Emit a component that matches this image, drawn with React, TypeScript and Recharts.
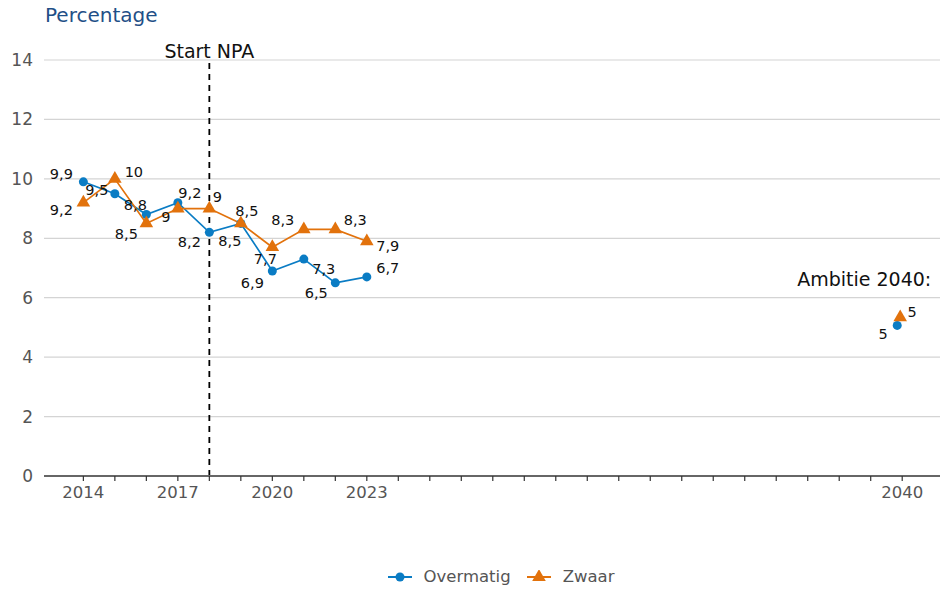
import { LineChart, Line, XAxis, YAxis, CartesianGrid, ReferenceLine, ReferenceDot, Legend, Symbols } from "recharts";

const years = [2014, 2015, 2016, 2017, 2018, 2019, 2020, 2021, 2022, 2023];
const overmatig = [9.9, 9.5, 8.8, 9.2, 8.2, 8.5, 6.9, 7.3, 6.5, 6.7];
const zwaar = [9.2, 10, 8.5, 9, 9, 8.5, 7.7, 8.3, 8.3, 7.9];

const ambitieJaar = 2040;
const ambitieOvermatig = 5;
const ambitieZwaar = 5;

const startNpaJaar = 2018;
const xTickYears = [
  2014, 2015, 2016, 2017, 2018, 2019, 2020, 2021, 2022, 2023, 2024, 2025, 2026, 2027,
  2028, 2029, 2030, 2031, 2032, 2033, 2034, 2035, 2036, 2037, 2038, 2039, 2040,
];
const xLabelYears = [2014, 2017, 2020, 2023, 2040];
const yTicks = [0, 2, 4, 6, 8, 10, 12, 14];

const BLUE = "#0a7cc4";
const ORANGE = "#e2720c";
const FONT = "'DejaVu Sans', sans-serif";

// pixel nudge of each value label away from its point (so labels don't collide)
const overmatigLabelOffset = [
  [-22, -8], [-18, -4], [-11, -10], [12, -10], [-20, 10],
  [-11, 18], [-20, 12], [20, 10], [-19, 10], [21, -9],
];
const zwaarLabelOffset = [
  [-22, 7], [19, -7], [-20, 11], [-12, 8], [8, -12],
  [6, -12], [-7, 12], [-21, -9], [20, -9], [21, 5],
];

const histOvermatig = years.map((year, i) => ({ year, v: overmatig[i] }));
const histZwaar = years.map((year, i) => ({ year, v: zwaar[i] }));

const fmt = (v: number) => String(v).replace(".", ",");

const Marker = ({ cx, cy, kind, color }: any) =>
  kind === "circle" ? (
    <circle cx={cx} cy={cy} r={4.5} fill={color} />
  ) : (
    <Symbols cx={cx} cy={cy} type="triangle" size={80} fill={color} />
  );

const makeDot = (kind: string, color: string, offs: number[][]) => (props: any) => {
  const { cx, cy, index, value, key } = props;
  const [dx, dy] = offs[index];
  return (
    <g key={key ?? index}>
      <Marker cx={cx} cy={cy} kind={kind} color={color} />
      <text x={cx + dx} y={cy + dy} textAnchor="middle" dominantBaseline="central" fontSize={14.5} fill="#111" fontFamily={FONT}>
        {fmt(Array.isArray(value) ? value[1] : value)}
      </text>
    </g>
  );
};

const XTick = ({ x, y, payload }: any) =>
  xLabelYears.includes(payload.value) ? (
    <text x={x} y={y} dy={15} textAnchor="middle" fontSize={16.5} fill="#555" fontFamily={FONT}>
      {payload.value}
    </text>
  ) : null;

const AmbitieDot = ({ cx, cy, kind, color, value, dx, dy, ldx, ldy }: any) => (
  <g>
    <Marker cx={cx + dx} cy={cy + dy} kind={kind} color={color} />
    <text x={cx + dx + ldx} y={cy + dy + ldy} textAnchor="middle" dominantBaseline="central" fontSize={14.5} fill="#111" fontFamily={FONT}>
      {fmt(value)}
    </text>
  </g>
);

const LegendContent = () => (
  <div style={{ display: "flex", justifyContent: "center", gap: 16, paddingLeft: 62, fontFamily: FONT, fontSize: 16.5, color: "#555", lineHeight: "20px" }}>
    {[
      { name: "Overmatig", color: BLUE, kind: "circle" },
      { name: "Zwaar", color: ORANGE, kind: "triangle" },
    ].map((it) => (
      <span key={it.name} style={{ display: "flex", alignItems: "center", gap: 12 }}>
        <svg width={24} height={14}>
          <line x1={0} y1={7} x2={24} y2={7} stroke={it.color} strokeWidth={2} />
          <Marker cx={12} cy={7} kind={it.kind} color={it.color} />
        </svg>
        {it.name}
      </span>
    ))}
  </div>
);

export default function App() {
  return (
    <div style={{ position: "absolute", left: 0, top: 0, width: 940, height: 590, background: "#fff" }}>
      <div style={{ position: "absolute", left: 45, top: 3, fontFamily: FONT, fontSize: 20, color: "#1f4f87" }}>Percentage</div>
      <LineChart width={940} height={590} margin={{ top: 60, right: 0, bottom: 0, left: 0 }}>
        <CartesianGrid vertical={false} stroke="#d4d4d4" strokeWidth={1.2} />
        <XAxis
          type="number"
          dataKey="year"
          domain={[2012.75, 2041.2]}
          allowDataOverflow
          ticks={xTickYears}
          interval={0}
          tick={<XTick />}
          tickSize={5}
          tickLine={{ stroke: "#333", strokeWidth: 1.2 }}
          axisLine={{ stroke: "#666", strokeWidth: 2 }}
          height={91}
        />
        <YAxis
          domain={[0, 14]}
          ticks={yTicks}
          axisLine={false}
          tickLine={false}
          tickSize={0}
          tickMargin={11}
          width={44}
          tick={{ fontSize: 17, fill: "#555", fontFamily: FONT }}
        />
        <ReferenceLine
          x={startNpaJaar}
          stroke="#000"
          strokeWidth={1.8}
          strokeDasharray="6 5"
          label={{ value: "Start NPA", position: "top", fontSize: 19, fill: "#111", fontFamily: FONT, offset: 2 }}
        />
        <Line
          data={histOvermatig}
          dataKey="v"
          name="Overmatig"
          stroke={BLUE}
          strokeWidth={1.7}
          dot={makeDot("circle", BLUE, overmatigLabelOffset)}
          activeDot={false}
          isAnimationActive={false}
        />
        <Line
          data={histZwaar}
          dataKey="v"
          name="Zwaar"
          stroke={ORANGE}
          strokeWidth={1.7}
          dot={makeDot("triangle", ORANGE, zwaarLabelOffset)}
          activeDot={false}
          isAnimationActive={false}
        />
        <ReferenceDot
          x={ambitieJaar}
          y={ambitieOvermatig}
          shape={(p: any) => <AmbitieDot {...p} kind="circle" color={BLUE} value={ambitieOvermatig} dx={-5} dy={-2} ldx={-14} ldy={9} />}
        />
        <ReferenceDot
          x={ambitieJaar}
          y={ambitieZwaar}
          shape={(p: any) => <AmbitieDot {...p} kind="triangle" color={ORANGE} value={ambitieZwaar} dx={-2} dy={-10} ldx={12} ldy={-5} />}
          label={{ value: "Ambitie 2040:", position: "top", fontSize: 19, fill: "#111", fontFamily: FONT, offset: 31, dx: -38 }}
        />
        <Legend content={<LegendContent />} verticalAlign="bottom" height={23} />
      </LineChart>
    </div>
  );
}
